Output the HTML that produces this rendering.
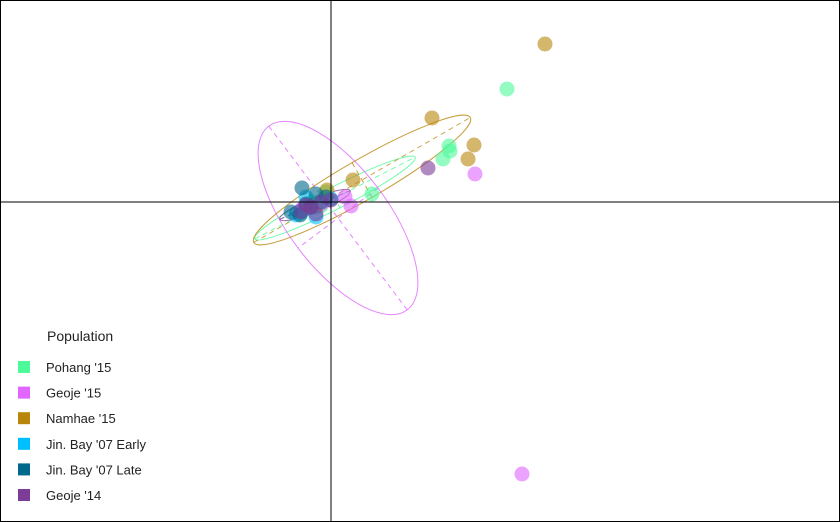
<!DOCTYPE html>
<html><head><meta charset="utf-8"><style>
body{margin:0;background:#fff}
svg{display:block;font-family:"Liberation Sans",sans-serif}
</style></head><body>
<svg id="c" width="840" height="522">
<rect x="0.5" y="0.5" width="839" height="521" fill="#fff" stroke="#000"/>
<g id="ell"></g>
<g id="pts"></g>
<line x1="331" y1="0" x2="331" y2="522" stroke="#000"/>
<line x1="0" y1="202" x2="840" y2="202" stroke="#000"/>
<g id="leg">
<text x="47" y="341" font-size="14" fill="#222">Population</text>
</g>
</svg>
<script>
const groups=["Pohang '15","Geoje '15","Namhae '15","Jin. Bay '07 Early","Jin. Bay '07 Late","Geoje '14"];
const colors=["#4dfa9a","#e066ff","#b8860b","#00bfff","#00688b","#7d3c98"];
const pohangX=[1.76,1.18,1.19,1.12,0.41,-0.1,-0.2,-0.05,-0.3];
const pohangY=[1.13,0.56,0.51,0.43,0.08,-0.04,0.0,0.1,-0.12];
const geoje15X=[1.91,1.44,0.2,0.14,-0.3,-0.1];
const geoje15Y=[-2.72,0.28,-0.04,0.05,-0.08,-0.02];
const namhaeX=[2.14,1.01,1.43,1.37,0.22,-0.04,-0.15];
const namhaeY=[1.58,0.84,0.57,0.43,0.22,0.12,-0.05];
const jinEarlyX=[-0.3,-0.2,-0.35,-0.1,-0.25,-0.15,0.0];
const jinEarlyY=[-0.1,-0.05,-0.13,0.0,0.05,-0.15,0.03];
const jinLateX=[-0.29,-0.31,-0.2,-0.05,-0.4,-0.15,-0.25];
const jinLateY=[0.14,-0.13,-0.05,0.05,-0.1,0.08,-0.02];
const geoje14X=[0.97,-0.2,-0.1,-0.3,-0.15,0.0,-0.25];
const geoje14Y=[0.34,-0.05,0.0,-0.1,-0.12,0.02,-0.03];
const ellCX=[0.04,0.07,0.31,-0.2,-0.2,-0.16];
const ellCY=[0.04,-0.16,0.22,-0.06,-0.04,-0.03];
const ellA=[0.9,1.15,1.25,0.2,0.22,0.38];
const ellB=[0.11,0.5,0.2,0.06,0.07,0.07];
const ellAng=[-27,53,-30,-20,-20,-22];
const xs=v=>331+v*100, ys=v=>202-v*100;
const NS="http://www.w3.org/2000/svg";
const E=document.getElementById('ell'),P=document.getElementById('pts'),L=document.getElementById('leg');
const xsArr=[pohangX,geoje15X,namhaeX,jinEarlyX,jinLateX,geoje14X];
const ysArr=[pohangY,geoje15Y,namhaeY,jinEarlyY,jinLateY,geoje14Y];
groups.forEach((g,i)=>{
  const cx=xs(ellCX[i]),cy=ys(ellCY[i]),a=ellA[i]*100,b=ellB[i]*100;
  const gg=document.createElementNS(NS,'g');
  gg.setAttribute('transform',`translate(${cx},${cy}) rotate(${ellAng[i]})`);
  
  
  const el=document.createElementNS(NS,'ellipse');
  el.setAttribute('rx',a);el.setAttribute('ry',b);el.setAttribute('fill','none');el.setAttribute('stroke',colors[i]);el.setAttribute('stroke-opacity','0.8');
  
  
  gg.appendChild(el);
  [[-a,0,a,0],[0,-b,0,b]].forEach(c=>{
    const ln=document.createElementNS(NS,'line');
    ln.setAttribute('x1',c[0]);ln.setAttribute('y1',c[1]);ln.setAttribute('x2',c[2]);ln.setAttribute('y2',c[3]);
    ln.setAttribute('stroke',colors[i]);ln.setAttribute('stroke-dasharray','5,4');ln.setAttribute('stroke-opacity','0.8');
    
    
    gg.appendChild(ln);
  });
  E.appendChild(gg);
  xsArr[i].forEach((v,j)=>{
    const c=document.createElementNS(NS,'circle');
    c.setAttribute('cx',xs(v));c.setAttribute('cy',ys(ysArr[i][j]));c.setAttribute('r',7.5);
    c.setAttribute('fill',colors[i]);c.setAttribute('fill-opacity','0.6');
    
    
    P.appendChild(c);
  });
  const y=367+i*25.6;
  const r=document.createElementNS(NS,'rect');
  r.setAttribute('x',18);r.setAttribute('y',y-6);r.setAttribute('width',12);r.setAttribute('height',12);r.setAttribute('fill',colors[i]);
  
  
  L.appendChild(r);
  const t=document.createElementNS(NS,'text');
  t.setAttribute('x',46);t.setAttribute('y',y+5);t.setAttribute('font-size','13');t.setAttribute('fill','#222');t.textContent=g;
  
  
  L.appendChild(t);
});
</script>
</body></html>
